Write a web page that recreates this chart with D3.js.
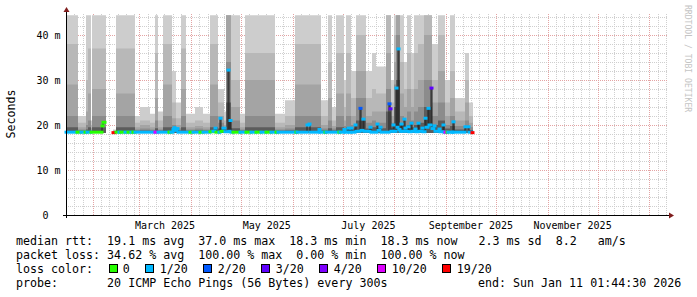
<!DOCTYPE html>
<html>
<head>
<meta charset="utf-8">
<script src="https://cdn.jsdelivr.net/npm/d3@7/dist/d3.min.js"></script>
<style>
body { margin: 0; background: #fff; }
text { font-family: "DejaVu Sans Mono", monospace; white-space: pre; }
</style>
</head>
<body>
<div id="chart"></div>
<script>
// time window: 360 days ending at the probe's last update
const endTime = Date.UTC(2026, 0, 11, 1, 44, 30);
const startTime = endTime - 360 * 864e5;

// smoke runs: day offset from start, band tops in ms (null = no data)
const smokeDay  = [0, 7.2, 12, 13.2, 15, 15.6, 24, 28.2, 30, 41.4, 44.4, 50.4, 53.4, 55.2, 58.2, 63.6, 66, 69, 72, 77.4,
                   82.2, 86.4, 91.2, 94.8, 96, 99, 104.4, 107.4, 125.4, 131.4, 137.4, 153, 157.2, 159.6, 162, 166.8, 168, 171, 174, 180,
                   183.6, 186, 192, 195, 196.8, 198, 200.4, 202.8, 204.6, 207, 208.8, 211.2, 214.8, 219.6, 223.2, 227.4, 230.4, 233.4, 239.4, 241.8,
                   244.2];
const smokeTop  = [44.4, 22, 44.4, 44.4, 21, 44.4, null, 19, 44.4, 22, 24, 22.5, 44.4, 23, 44.4, 32, 25, 44.4, 22.5, 24,
                   22.5, 44.4, 28, 23, 44.4, 44.4, 22.5, 44.4, 22.5, 25.5, 44.4, 25.5, 44.4, 24, 44.4, 30, 44.4, 32, 44.4, 32,
                   36, 33, 44.4, 30, 44.4, 44.4, 44.4, 34, 44.4, 36, 44.4, 44.4, 44.4, 38, 44.4, 30, 44.4, 26, 36, 25,
                   null];
const smokeUp   = [38, 20.5, 30, 37, 20, 37, null, 18.8, 37, 20.5, 21, 20.5, 36, 21, 38, 25, 21.5, 37, 20.5, 21,
                   20.5, 38, 25, 21, 44.4, 30, 20.5, 36, 20.5, 22, 38, 22, 34, 21, 36, 24, 36, 26, 40, 26,
                   28, 27, 44.4, 25, 40, 44.4, 34, 28, 36, 28, 36, 38, 44.4, 30, 40, 25, 32, 23, 30, 22,
                   null];
const smokeMid  = [29, 19.5, 23, 27, 19.3, 28, null, 18.6, 27, 19.5, 20, 19.5, 26, 19.5, 29, 21.5, 20, 28, 19.5, 19.8,
                   19.5, 29, 22, 20, 44.4, 24, 19.5, 30, 19.5, 20, 29, 20, 26, 19.8, 27, 21, 27, 22, 32, 22,
                   23, 23, 36, 22, 34, 44.4, 27, 24, 28, 24, 28, 30, 40, 25, 32, 22, 26, 21, 25, 20.5,
                   null];
const smokeLow  = [22, 19, 20, 21, 18.9, 22, null, 18.5, 22, 19, 19.2, 19, 21, 19, 22, 20, 19.3, 22, 19, 19.2,
                   19, 22, 20.5, 19.5, 34, 21, 19, 22, 19, 19.2, 22, 19.2, 21, 19.2, 22, 19.8, 22, 20, 26, 20.5,
                   21, 20.5, 28, 20.5, 29, 40, 22, 21, 23, 21, 23, 24, 30, 22, 25, 20, 22, 19.8, 21, 19.5,
                   null];
const smokeCore = [19.5, 18.7, 19, 19.5, 18.6, 19.5, null, 18.4, 19.5, 18.7, 18.8, 18.7, 19.3, 18.7, 19.5, 19, 18.8, 19.5, 18.7, 18.8,
                   18.7, 19.5, 19.2, 19, 25, 19.3, 18.7, 19.5, 18.7, 18.8, 19.5, 18.8, 19.3, 18.8, 19.5, 19, 19.5, 19.2, 21, 19.2,
                   19.5, 19.3, 23, 19.3, 24, 30, 20, 19.5, 20, 19.5, 20, 20.5, 24, 20, 21, 19.2, 19.8, 19, 19.5, 18.9,
                   null];

// median rtt runs: day offset, value in ms, loss class index
const medDay  = [0, 6.6, 9, 11.4, 12.6, 15, 21.6, 22.2, 23.4, 28.2, 29.4, 30, 31.8, 33, 35.4, 37.2, 39, 40.2, 41.4, 53.4,
                 55.2, 61.8, 63, 64.2, 64.8, 65.4, 66.6, 67.2, 74.4, 76.2, 80.4, 82.2, 86.4, 88.2, 89.4, 90, 91.8, 92.4, 93, 94.2,
                 95.4, 97.2, 97.8, 98.4, 99, 100.2, 104.4, 108, 111, 114, 117, 120, 123, 126, 127.2, 138, 138.6, 144.6, 145.8, 146.4,
                 151.8, 152.4, 155.4, 156, 163.8, 164.4, 166.8, 167.4, 169.2, 169.8, 171, 171.6, 173.4, 174, 176.4, 177, 178.2, 178.8, 182.4, 183,
                 186.6, 187.2, 188.4, 189, 193.8, 194.4, 195, 196.2, 196.8, 198, 198.6, 199.2, 199.8, 200.4, 201, 201.6, 202.8, 203.4, 204, 205.2,
                 205.8, 207, 207.6, 209.4, 210, 211.2, 211.8, 213.6, 214.2, 215.4, 216, 217.2, 217.8, 219, 219.6, 220.8, 221.4, 223.8, 224.4, 226.2,
                 226.8, 227.4, 228.6, 229.2, 231.6, 232.2, 232.8, 239.4, 241.8, 243.6, 244.2];
const medMs   = [18.4, 18.4, 18.4, 18.4, 18.4, 18.4, 19.8, 20.6, null, 18.3, null, 18.4, 18.4, 18.4, 18.4, 18.4, 18.4, 18.4, 18.4, 18.4,
                 18.4, 18.4, 18.4, 19, 19.4, 18.8, 19.2, 18.4, 18.4, 18.4, 18.4, 18.4, 18.5, 18.6, 19.3, 18.4, 18.4, 21.5, 18.6, 19.3,
                 18.5, 32.2, 18.6, 21, 18.4, 18.4, 18.4, 18.4, 18.4, 18.4, 18.4, 18.4, 18.4, 18.4, 18.4, 18.4, 18.4, 20, 20.2, 18.4,
                 19, 18.4, 18.4, 18.4, 18.4, 18.4, 19, 18.4, 19.3, 18.4, 19.3, 18.4, 20, 18.6, 23.7, 18.8, 21.3, 18.6, 19.5, 18.4,
                 20.2, 18.8, 19.5, 18.4, 24.7, 23.6, 18.6, 20, 18.6, 28.2, 19.5, 36.9, 19, 18.6, 20.2, 18.6, 21.3, 19.3, 18.6, 19.6,
                 18.5, 20.4, 18.6, 19.1, 18.5, 20.4, 18.6, 19.3, 18.5, 21.5, 19.5, 23.7, 20, 28.2, 19.2, 19.8, 18.6, 19.1, 18.5, 20,
                 18.4, 18.4, 18.4, 18.4, 18.4, 20.7, 18.4, 19.6, 18.4, 18.3, null];
const medLoss = [1, 0, 1, 0, 1, 0, 0, 0, 0, 6, 0, 0, 1, 0, 1, 0, 1, 0, 1, 5,
                 1, 0, 1, 1, 1, 1, 1, 1, 0, 1, 0, 1, 0, 1, 1, 0, 1, 1, 0, 1,
                 1, 1, 1, 1, 1, 0, 1, 0, 1, 0, 1, 0, 1, 0, 1, 0, 1, 1, 1, 1,
                 1, 1, 0, 1, 0, 1, 1, 1, 1, 1, 1, 1, 1, 1, 2, 1, 1, 1, 1, 1,
                 1, 1, 1, 1, 2, 3, 1, 1, 1, 1, 1, 1, 1, 1, 1, 1, 1, 1, 1, 1,
                 1, 1, 1, 1, 1, 1, 1, 1, 1, 1, 1, 1, 1, 3, 1, 1, 1, 1, 1, 1,
                 1, 5, 0, 1, 1, 1, 1, 1, 1, 6, 1];

const lossLabels = ["0", "1/20", "2/20", "3/20", "4/20", "10/20", "19/20"];
const lossColors = ["#26ff00", "#00b8ff", "#0059ff", "#5e00ff", "#7e00ff", "#dd00ff", "#ff0000"];
const smokeShades = ["#cdcdcd", "#b8b8b8", "#a4a4a4", "#8c8c8c", "#5c5c5c"];
const yTicks = [0, 10, 20, 30, 40];

const legendRows = [
    "median rtt:  19.1 ms avg  37.0 ms max  18.3 ms min  18.3 ms now   2.3 ms sd  8.2   am/s",
    "packet loss: 34.62 % avg  100.00 % max  0.00 % min  100.00 % now",
    "loss color:",
    "probe:       20 ICMP Echo Pings (56 Bytes) every 300s"
];
const endLabel = "end: Sun Jan 11 01:44:30 2026";

const W = 697, H = 297;
const plot = { left: 66, right: 666, top: 15, bottom: 215 };

const svg = d3.select("#chart").append("svg")
    .attr("width", W)
    .attr("height", H)
    .style("display", "block");

svg.append("rect").attr("width", W).attr("height", H).attr("fill", "#fff");

const x = d3.scaleUtc()
    .domain([new Date(startTime), new Date(endTime)])
    .range([plot.left, plot.right]);

const y = d3.scaleLinear()
    .domain([0, 44.44])
    .range([plot.bottom, plot.top]);

const day = d => new Date(startTime + d * 864e5);

// grid
const grid = svg.append("g").attr("shape-rendering", "crispEdges");
const months = d3.utcMonth.range(new Date(startTime), new Date(endTime));
const minorDays = d3.utcDay.every(5).range(new Date(startTime), new Date(endTime))
    .filter(t => t.getUTCDate() !== 31 && t.getUTCDate() !== 1);

grid.selectAll(".vminor").data(minorDays).join("line")
    .attr("x1", d => Math.round(x(d)) + 0.5).attr("x2", d => Math.round(x(d)) + 0.5)
    .attr("y1", plot.bottom).attr("y2", 13)
    .attr("stroke", "#cfcfcf").attr("stroke-dasharray", "1,1");

grid.selectAll(".hminor").data(d3.range(2, 45, 2).filter(v => v % 10 !== 0)).join("line")
    .attr("x1", plot.left).attr("x2", 668)
    .attr("y1", d => Math.round(y(d)) + 0.5).attr("y2", d => Math.round(y(d)) + 0.5)
    .attr("stroke", "#cfcfcf").attr("stroke-dasharray", "1,1");

grid.selectAll(".vmajor").data(months).join("line")
    .attr("x1", d => Math.round(x(d)) + 0.5).attr("x2", d => Math.round(x(d)) + 0.5)
    .attr("y1", plot.bottom).attr("y2", 13)
    .attr("stroke", "#e3a3a3").attr("stroke-dasharray", "1,1");

grid.selectAll(".hmajor").data(yTicks.filter(v => v > 0)).join("line")
    .attr("x1", plot.left).attr("x2", 668)
    .attr("y1", d => Math.round(y(d)) + 0.5).attr("y2", d => Math.round(y(d)) + 0.5)
    .attr("stroke", "#e3a3a3").attr("stroke-dasharray", "1,1");

// smoke
const layers = [smokeTop, smokeUp, smokeMid, smokeLow, smokeCore];
const area = d3.area()
    .defined(p => p.v != null)
    .x(p => x(day(p.t)))
    .y0(y(18.2))
    .y1(p => y(p.v));

layers.forEach((vals, k) => {
    const pts = [];
    for (let i = 0; i < smokeDay.length - 1; i++) {
        pts.push({ t: smokeDay[i], v: vals[i] }, { t: smokeDay[i + 1], v: vals[i] });
    }
    svg.append("path")
        .datum(pts)
        .attr("d", area)
        .attr("fill", smokeShades[k]);
});

// median line
const medPts = [];
for (let i = 0; i < medDay.length - 1; i++) {
    medPts.push({ t: medDay[i], v: medMs[i] }, { t: medDay[i + 1], v: medMs[i] });
}
svg.append("path")
    .datum(medPts)
    .attr("d", d3.line().defined(p => p.v != null).x(p => x(day(p.t))).y(p => y(p.v)))
    .attr("fill", "none")
    .attr("stroke", "#202020")
    .attr("stroke-width", 1);

const segs = medDay.slice(0, -1).map((d, i) => ({ t0: d, t1: medDay[i + 1], v: medMs[i], c: medLoss[i] }))
    .filter(s => s.v != null);
svg.append("g").selectAll("line").data(segs).join("line")
    .attr("x1", s => x(day(s.t0))).attr("x2", s => x(day(s.t1)))
    .attr("y1", s => y(s.v)).attr("y2", s => y(s.v))
    .attr("stroke", s => lossColors[s.c])
    .attr("stroke-width", 3)
    .attr("stroke-linecap", "square");

// axes
svg.append("line")
    .attr("x1", 63).attr("x2", 669).attr("y1", 215.5).attr("y2", 215.5)
    .attr("stroke", "#000").attr("shape-rendering", "crispEdges");
svg.append("line")
    .attr("x1", 66.5).attr("x2", 66.5).attr("y1", 218).attr("y2", 11)
    .attr("stroke", "#000").attr("shape-rendering", "crispEdges");
svg.append("path").attr("d", "M669,212.5L674,215.5L669,218.5Z").attr("fill", "#7f1d1d");
svg.append("path").attr("d", "M63.5,12L66.5,7L69.5,12Z").attr("fill", "#7f1d1d");

// y labels
svg.append("g").selectAll("text").data(yTicks).join("text")
    .attr("x", 60.5)
    .attr("y", d => y(d) + 3.6)
    .attr("text-anchor", "end")
    .attr("font-size", 10)
    .attr("fill", "#000")
    .text(d => d === 0 ? "0  " : d + " m");

// month labels centred between month starts
const labelMonths = d3.utcMonth.every(2).range(d3.utcMonth.floor(new Date(startTime)), new Date(endTime))
    .map(m => ({ m, c: x(new Date((+m + +d3.utcMonth.offset(m, 1)) / 2)) }))
    .filter(o => o.c - 35 > plot.left && o.c + 35 < plot.right);
svg.append("g").selectAll("text").data(labelMonths).join("text")
    .attr("x", o => o.c)
    .attr("y", 228.5)
    .attr("text-anchor", "middle")
    .attr("font-size", 10)
    .attr("fill", "#000")
    .text(o => d3.utcFormat("%B %Y")(o.m));

svg.append("text")
    .attr("transform", "translate(15.3,114) rotate(-90)")
    .attr("text-anchor", "middle")
    .attr("font-size", 11.6)
    .attr("fill", "#000")
    .text("Seconds");

svg.append("text")
    .attr("transform", "translate(685,5) rotate(90)")
    .attr("font-size", 8.1)
    .attr("fill", "#c4c4c4")
    .text("RRDTOOL / TOBI OETIKER");

// legend
const legend = svg.append("g").attr("font-size", 11.65).attr("fill", "#000");
legendRows.forEach((r, i) => {
    legend.append("text").attr("x", 16).attr("y", 244.5 + i * 14).text(r);
});
legend.append("text").attr("x", 478).attr("y", 244.5 + 3 * 14).text(endLabel);

const charW = 7.05;
let lx = 16 + 13 * 7 + 1.5;
lossLabels.forEach((lab, i) => {
    legend.append("rect")
        .attr("x", Math.round(lx) + 0.5).attr("y", 264.5)
        .attr("width", 8).attr("height", 8)
        .attr("fill", lossColors[i]).attr("stroke", "#000");
    legend.append("text").attr("x", lx + 14.3).attr("y", 244.5 + 2 * 14).text(lab);
    lx = lx + 14.3 + lab.length * charW + 15.5;
});
</script>
</body>
</html>
